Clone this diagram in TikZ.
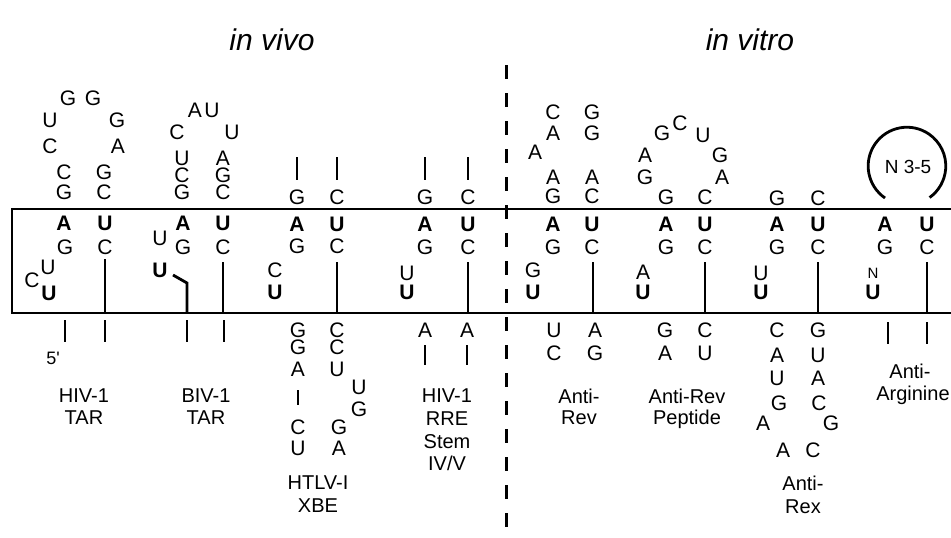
\documentclass[tikz,border=0pt]{standalone}
\usepackage{fontspec}
\setmainfont{Liberation Sans}
% one nucleotide letter, plain and bold; y is given downwards in px
\newcommand\nuc[4]{\node[nt] (#1) at (#2,-#3) {#4};}
\newcommand\nucb[4]{\node[ntb] (#1) at (#2,-#3) {#4};}
% backbone / pairing bar
\newcommand\strandbar[3]{\draw[strand] (#1,-#2) -- (#1,-#3);}
% one line of a caption, placed by its baseline
\newcommand\lab[4]{\node[lab] (#1) at (#2,-#3) {#4};}
\begin{document}
\begin{tikzpicture}[x=1pt,y=1pt,
  nt/.style={inner sep=0pt, font=\fontsize{21}{23}\selectfont},
  ntb/.style={inner sep=0pt, font=\fontsize{21}{23}\selectfont\bfseries},
  ntsmall/.style={inner sep=0pt, font=\fontsize{15}{17}\selectfont},
  lab/.style={inner sep=0pt, anchor=base, font=\fontsize{20}{22}\selectfont},
  strand/.style={line width=2.8pt},
  frame/.style={line width=1.8pt},
  divider/.style={line width=3pt, dash pattern=on 14pt off 14pt},
  title/.style={inner sep=0pt, font=\fontsize{30}{32}\selectfont\itshape}]
\useasboundingbox (0,0) rectangle (951,-538);
\fill[white] (0,0) rectangle (951,-538);

% headings
\node[title] (vivo) at (272,-40) {in vivo};
\node[title] (vitro) at (750,-40) {in vitro};

% frame around the conserved core
\draw[frame] (951,-209) -- (12,-209) -- (12,-313) -- (951,-313);

% divider between in vivo and in vitro
\draw[divider] (506,-65) -- (506,-538);

% ---------------- HIV-1 TAR ----------------
\nuc{h1}{68}{98}{G} \nuc{h2}{93}{98}{G}
\nuc{h3}{50}{120}{U} \nuc{h4}{117}{120}{G}
\nuc{h5}{50}{146}{C} \nuc{h6}{118}{146}{A}
\nuc{h7}{64}{172}{C} \nuc{h8}{104}{172}{G}
\nuc{h9}{64}{192}{G} \nuc{h10}{104}{192}{C}
\nucb{h11}{64}{223}{A} \nucb{h12}{105}{223}{U}
\nuc{h13}{65}{247}{G} \nuc{h14}{105}{247}{C}
\nuc{h15}{48}{267}{U} \nuc{h16}{32}{280}{C}
\nucb{h17}{49}{293}{U}
\strandbar{105}{259}{313}
\strandbar{65}{320}{342}
\strandbar{105}{320}{342}
\node[inner sep=0pt, font=\fontsize{18}{20}\selectfont] (h5p) at (53,-358) {5\textquotesingle};
\lab{hivA}{84}{402}{HIV-1}
\lab{hivB}{84}{424}{TAR}

% ---------------- BIV-1 TAR ----------------
\nuc{b1}{195}{110}{A} \nuc{b2}{212}{110}{U}
\nuc{b3}{177}{132}{C} \nuc{b4}{232}{132}{U}
\nuc{b5}{182}{158}{U} \nuc{b6}{223}{158}{A}
\nuc{b7}{182}{175}{C} \nuc{b8}{223}{175}{G}
\nuc{b9}{182}{192}{G} \nuc{b10}{223}{192}{C}
\nucb{b11}{183}{223}{A} \nucb{b12}{223}{223}{U}
\nuc{b13}{160}{238}{U}
\nuc{b14}{183}{247}{G} \nuc{b15}{223}{247}{C}
\nucb{b16}{160}{270}{U}
\draw[strand] (173,-275) -- (187,-283) -- (187,-313);
\strandbar{223}{262}{313}
\strandbar{187}{320}{342}
\strandbar{224}{320}{342}
\lab{bivA}{206}{402}{BIV-1}
\lab{bivB}{206}{424}{TAR}

% ---------------- HTLV-I XBE ----------------
\strandbar{297}{157}{180}
\strandbar{337}{157}{180}
\nuc{x1}{297}{197}{G} \nuc{x2}{337}{197}{C}
\nucb{x3}{297}{224}{A} \nucb{x4}{337}{224}{U}
\nuc{x5}{297}{246}{G} \nuc{x6}{337}{246}{C}
\nuc{x7}{275}{270}{C}
\nucb{x8}{275}{292}{U}
\strandbar{337}{262}{313}
\nuc{x9}{298}{330}{G} \nuc{x10}{337}{330}{C}
\nuc{x11}{298}{347}{G} \nuc{x12}{337}{347}{C}
\nuc{x13}{298}{369}{A} \nuc{x14}{337}{369}{U}
\nuc{x15}{359}{387}{U}
\strandbar{298}{390}{405}
\nuc{x16}{359}{409}{G}
\nuc{x17}{298}{427}{C} \nuc{x18}{339}{427}{G}
\nuc{x19}{298}{448}{U} \nuc{x20}{339}{448}{A}
\lab{xbeA}{318}{489}{HTLV-I}
\lab{xbeB}{318}{512}{XBE}

% ---------------- HIV-1 RRE stem IV/V ----------------
\strandbar{425}{157}{180}
\strandbar{468}{157}{180}
\nuc{r1}{425}{197}{G} \nuc{r2}{468}{197}{C}
\nucb{r3}{425}{224}{A} \nucb{r4}{468}{224}{U}
\nuc{r5}{425}{247}{G} \nuc{r6}{468}{247}{C}
\nuc{r7}{407}{273}{U}
\nucb{r8}{407}{292}{U}
\strandbar{468}{262}{313}
\nuc{r9}{425}{330}{A} \nuc{r10}{467}{330}{A}
\strandbar{425}{345}{365}
\strandbar{467}{345}{365}
\lab{rreA}{447}{402}{HIV-1}
\lab{rreB}{447}{425}{RRE}
\lab{rreC}{447}{448}{Stem}
\lab{rreD}{447}{470}{IV/V}

% ---------------- Anti-Rev ----------------
\nuc{v1}{553}{112}{C} \nuc{v2}{592}{112}{G}
\nuc{v3}{553}{133}{A} \nuc{v4}{592}{133}{G}
\nuc{v5}{535}{152}{A}
\nuc{v6}{553}{177}{A} \nuc{v7}{592}{177}{A}
\nuc{v8}{553}{196}{G} \nuc{v9}{592}{196}{C}
\nucb{v10}{553}{224}{A} \nucb{v11}{592}{224}{U}
\nuc{v12}{553}{247}{G} \nuc{v13}{592}{247}{C}
\nuc{v14}{533}{270}{G}
\nucb{v15}{533}{292}{U}
\strandbar{593}{262}{313}
\nuc{v16}{554}{330}{U} \nuc{v17}{595}{330}{A}
\nuc{v18}{554}{353}{C} \nuc{v19}{595}{353}{G}
\lab{arevA}{579}{403}{Anti-}
\lab{arevB}{579}{424}{Rev}

% ---------------- Anti-Rev peptide ----------------
\nuc{p1}{680}{123}{C}
\nuc{p2}{662}{133}{G} \nuc{p3}{703}{135}{U}
\nuc{p4}{645}{155}{A} \nuc{p5}{720}{155}{G}
\nuc{p6}{645}{177}{G} \nuc{p7}{722}{177}{A}
\nuc{p8}{666}{197}{G} \nuc{p9}{705}{197}{C}
\nucb{p10}{666}{224}{A} \nucb{p11}{705}{224}{U}
\nuc{p12}{666}{247}{G} \nuc{p13}{705}{247}{C}
\nuc{p14}{643}{272}{A}
\nucb{p15}{643}{292}{U}
\strandbar{705}{262}{313}
\nuc{p16}{665}{330}{G} \nuc{p17}{705}{330}{C}
\nuc{p18}{665}{353}{A} \nuc{p19}{705}{353}{U}
\lab{pepA}{687}{403}{Anti-Rev}
\lab{pepB}{687}{424}{Peptide}

% ---------------- Anti-Rex ----------------
\nuc{e1}{777}{198}{G} \nuc{e2}{818}{198}{C}
\nucb{e3}{777}{224}{A} \nucb{e4}{818}{224}{U}
\nuc{e5}{777}{247}{G} \nuc{e6}{818}{247}{C}
\nuc{e7}{761}{273}{U}
\nucb{e8}{761}{292}{U}
\strandbar{818}{262}{313}
\nuc{e9}{777}{330}{C} \nuc{e10}{818}{330}{G}
\nuc{e11}{777}{355}{A} \nuc{e12}{818}{355}{U}
\nuc{e13}{777}{378}{U} \nuc{e14}{818}{378}{A}
\nuc{e15}{779}{403}{G} \nuc{e16}{819}{403}{C}
\nuc{e17}{763}{423}{A} \nuc{e18}{831}{423}{G}
\nuc{e19}{783}{450}{A} \nuc{e20}{813}{450}{C}
\lab{rexA}{803}{490}{Anti-}
\lab{rexB}{803}{513}{Rex}

% ---------------- Anti-Arginine ----------------
\draw[strand] (885,-198) arc[start angle=235.5, end angle=-54.3, radius=38.8];
\node[inner sep=0pt, font=\fontsize{19}{21}\selectfont] (loop) at (908,-167) {N 3-5};
\nucb{g1}{885}{224}{A} \nucb{g2}{927}{224}{U}
\nuc{g3}{885}{247}{G} \nuc{g4}{927}{247}{C}
\node[ntsmall] (g5) at (873,-273) {N};
\nucb{g6}{873}{292}{U}
\strandbar{927}{262}{313}
\strandbar{888}{322}{344}
\strandbar{927}{322}{344}
\lab{argA}{910}{378}{Anti-}
\lab{argB}{913}{400}{Arginine}
\end{tikzpicture}
\end{document}
